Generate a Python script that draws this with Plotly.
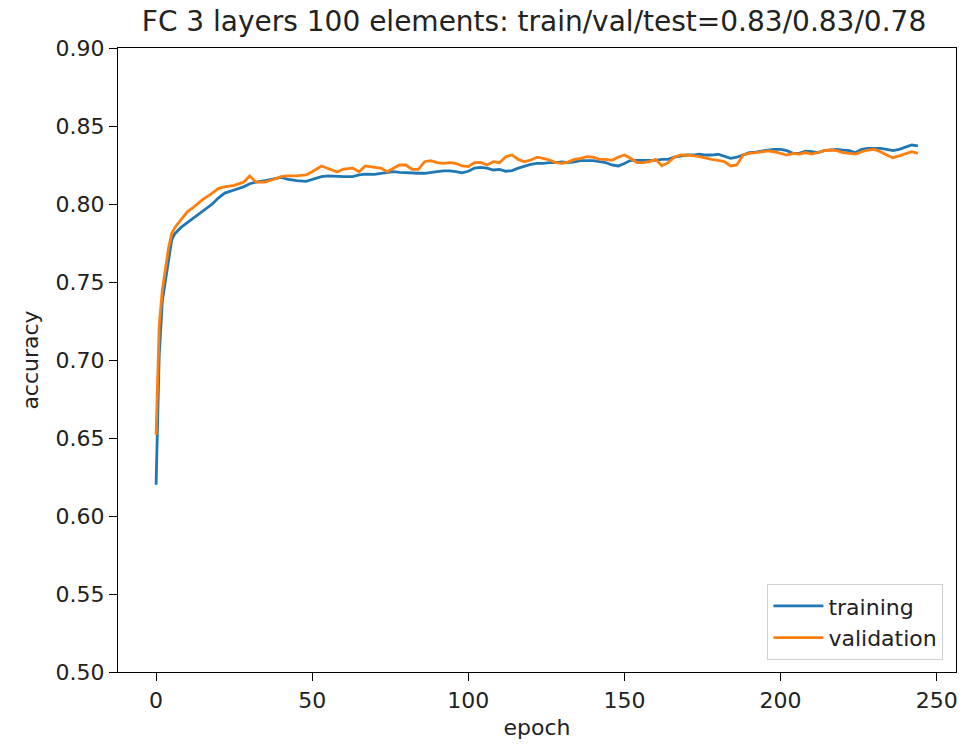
import plotly.graph_objects as go

title_text = "FC 3 layers 100 elements: train/val/test=0.83/0.83/0.78"

epochs = [0, 1, 2, 3, 4, 5, 6, 8, 10, 12, 15, 18, 20, 22, 25, 28, 30, 32, 35, 38,
          40, 42, 45, 48, 50, 53, 55, 58, 60, 63, 65, 67, 70, 72, 74, 76, 78, 80,
          82, 84, 86, 88, 90, 92, 94, 96, 98, 100, 102, 104, 106, 108, 110, 112,
          114, 116, 118, 120, 122, 124, 126, 128, 130, 132, 134, 136, 138, 140,
          142, 144, 146, 148, 150, 152, 154, 156, 158, 160, 162, 164, 166, 168,
          170, 172, 174, 176, 178, 180, 182, 184, 186, 188, 190, 192, 194, 196,
          198, 200, 202, 204, 206, 208, 210, 212, 214, 216, 218, 220, 222, 224,
          226, 228, 230, 232, 234, 236, 238, 240, 242, 244]

training = [0.620, 0.703, 0.738, 0.752, 0.766, 0.777, 0.781, 0.785, 0.788, 0.791,
            0.795, 0.800, 0.804, 0.807, 0.809, 0.811, 0.813, 0.814, 0.815, 0.816,
            0.817, 0.816, 0.815, 0.8145, 0.8158, 0.8175, 0.818, 0.8175, 0.8175, 0.8175,
            0.8186, 0.8192, 0.819, 0.8197, 0.8203, 0.8207, 0.8203, 0.820, 0.8197, 0.8197,
            0.8197, 0.820, 0.8207, 0.8212, 0.8212, 0.8207, 0.820, 0.821, 0.823, 0.8235,
            0.823, 0.8218, 0.8222, 0.821, 0.8214, 0.823, 0.8244, 0.8254, 0.826, 0.826,
            0.8265, 0.8265, 0.827, 0.8265, 0.827, 0.8278, 0.8278, 0.8278, 0.8272, 0.8265,
            0.825, 0.8244, 0.826, 0.828, 0.828, 0.828, 0.8278, 0.828, 0.8286, 0.8286,
            0.830, 0.8308, 0.8314, 0.8314, 0.8319, 0.8314, 0.8314, 0.8319, 0.8308, 0.8293,
            0.830, 0.8314, 0.8329, 0.8333, 0.8342, 0.8346, 0.835, 0.835, 0.8342, 0.8325,
            0.8325, 0.8338, 0.8335, 0.833, 0.8342, 0.8346, 0.835, 0.8346, 0.8342, 0.833,
            0.835, 0.8357, 0.8357, 0.8357, 0.835, 0.8342, 0.835, 0.8363, 0.8378, 0.8372]

validation = [0.652, 0.722, 0.745, 0.759, 0.772, 0.781, 0.785, 0.790, 0.795, 0.798,
              0.803, 0.807, 0.810, 0.811, 0.812, 0.814, 0.818, 0.814, 0.814, 0.816,
              0.8175, 0.818, 0.818, 0.8186, 0.8207, 0.8244, 0.823, 0.8205, 0.8224, 0.823,
              0.8207, 0.8244, 0.8235, 0.823, 0.8207, 0.823, 0.825, 0.825, 0.8222, 0.8222,
              0.8271, 0.8278, 0.8265, 0.826, 0.8265, 0.826, 0.8244, 0.824, 0.8265, 0.8267,
              0.825, 0.8271, 0.8265, 0.8303, 0.8314, 0.8286, 0.8271, 0.8282, 0.830, 0.8293,
              0.8282, 0.8265, 0.826, 0.827, 0.8286, 0.8293, 0.8303, 0.830, 0.8286, 0.8286,
              0.828, 0.830, 0.8314, 0.8293, 0.8265, 0.8265, 0.8272, 0.8286, 0.8245, 0.8265,
              0.830, 0.8314, 0.8314, 0.831, 0.8303, 0.8293, 0.8286, 0.828, 0.8272, 0.8244,
              0.825, 0.8314, 0.8325, 0.8329, 0.8335, 0.834, 0.8335, 0.8325, 0.8314, 0.8325,
              0.832, 0.833, 0.832, 0.833, 0.8342, 0.8346, 0.8342, 0.8329, 0.8325, 0.832,
              0.8335, 0.8346, 0.835, 0.8335, 0.8314, 0.8297, 0.8308, 0.832, 0.8335, 0.8325]

x_ticks = [0, 50, 100, 150, 200, 250]
y_ticks = [0.50, 0.55, 0.60, 0.65, 0.70, 0.75, 0.80, 0.85, 0.90]

FONT = "DejaVu Sans"
TXT = "#222222"

fig = go.Figure()
fig.add_trace(go.Scatter(x=epochs, y=training, mode="lines", name="training",
                         line=dict(color="#1f77b4", width=2.8)))
fig.add_trace(go.Scatter(x=epochs, y=validation, mode="lines", name="validation",
                         line=dict(color="#ff7f0e", width=2.8)))

axis_common = dict(showline=True, linecolor="black", linewidth=1.4, mirror=True,
                   ticks="outside", ticklen=8, tickwidth=1.4, tickcolor="black",
                   showgrid=False, zeroline=False,
                   tickfont=dict(family=FONT, size=22, color=TXT))

fig.update_xaxes(range=[-12.2, 256.2], tickvals=x_ticks,
                 title=dict(text="epoch", font=dict(family=FONT, size=22, color=TXT), standoff=8),
                 **axis_common)
fig.update_yaxes(range=[0.5, 0.9], tickvals=y_ticks, tickformat=".2f",
                 title=dict(text="accuracy", font=dict(family=FONT, size=22, color=TXT), standoff=10),
                 **axis_common)

fig.update_layout(
    width=963, height=748,
    margin=dict(l=118, r=5, t=48, b=76),
    paper_bgcolor="white", plot_bgcolor="white",
    title=dict(text=title_text, font=dict(family=FONT, size=28, color=TXT),
               x=(118 + 950) / 2 / 963, xanchor="center", xref="container",
               y=1 - 21 / 748, yanchor="middle", yref="container"),
    legend=dict(x=0.985, y=0.019, xanchor="right", yanchor="bottom",
                bgcolor="rgba(255,255,255,0.8)", bordercolor="#d0d0d0", borderwidth=1,
                font=dict(family=FONT, size=22, color=TXT), itemwidth=50,
                tracegroupgap=0),
    showlegend=True,
)

fig.write_html("out.html", config={"displayModeBar": False},
               post_script="document.body.style.margin='0';document.body.style.overflow='hidden';")
